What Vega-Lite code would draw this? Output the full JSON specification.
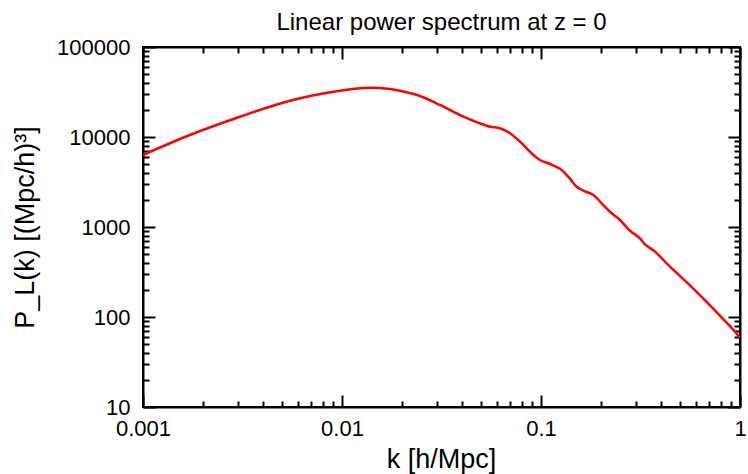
{
  "$schema": "https://vega.github.io/schema/vega-lite/v6.json",
  "width": 597,
  "height": 360,
  "autosize": {"type": "none"},
  "padding": {"left": 143, "top": 47, "right": 8, "bottom": 67},
  "background": "white",
  "title": {"text": "Linear power spectrum at z = 0", "fontSize": 24, "font": "Liberation Sans", "fontWeight": "normal", "color": "black", "offset": 1},
  "config": {
    "view": {"stroke": "black", "strokeWidth": 2},
    "axis": {"domainColor": "black", "domainWidth": 2, "tickColor": "black", "tickWidth": 2, "labelFont": "Liberation Sans", "labelFontSize": 22, "labelColor": "black", "titleFont": "Liberation Sans", "titleFontSize": 27, "titleFontWeight": "normal", "titleColor": "black", "grid": false}
  },
  "data": {"values": [
    {"k": 0.001, "P": 6310},
    {"k": 0.00172, "P": 10520},
    {"k": 0.00307, "P": 16800},
    {"k": 0.00548, "P": 25300},
    {"k": 0.00977, "P": 32650},
    {"k": 0.01384, "P": 35300},
    {"k": 0.01741, "P": 34150},
    {"k": 0.01955, "P": 32650},
    {"k": 0.02466, "P": 28560},
    {"k": 0.03112, "P": 22680},
    {"k": 0.03917, "P": 17550},
    {"k": 0.04931, "P": 14190},
    {"k": 0.05543, "P": 13020},
    {"k": 0.06223, "P": 12490},
    {"k": 0.06986, "P": 10990},
    {"k": 0.07842, "P": 8867},
    {"k": 0.08806, "P": 6866},
    {"k": 0.09886, "P": 5552},
    {"k": 0.111, "P": 5012},
    {"k": 0.1246, "P": 4434},
    {"k": 0.1372, "P": 3623},
    {"k": 0.1512, "P": 2804},
    {"k": 0.1632, "P": 2531},
    {"k": 0.1832, "P": 2268},
    {"k": 0.2056, "P": 1755},
    {"k": 0.2266, "P": 1420},
    {"k": 0.2495, "P": 1196},
    {"k": 0.28, "P": 908},
    {"k": 0.3144, "P": 749},
    {"k": 0.3332, "P": 640},
    {"k": 0.374, "P": 532},
    {"k": 0.4447, "P": 362},
    {"k": 0.5608, "P": 225},
    {"k": 0.7067, "P": 135},
    {"k": 0.8906, "P": 79},
    {"k": 1.0, "P": 59}
  ]},
  "layer": [
    {
      "mark": {"type": "line", "color": "#ff0000", "strokeWidth": 2.5, "interpolate": "catmull-rom", "clip": true},
      "encoding": {
        "x": {"field": "k", "type": "quantitative", "scale": {"type": "log", "domain": [0.001, 1], "nice": false},
          "axis": {"orient": "bottom", "values": [0.001, 0.01, 0.1, 1], "format": "~g", "tickSize": -12, "labelPadding": 23, "labelFlush": false, "labelOverlap": false, "title": "k [h/Mpc]", "titleX": 298, "titleY": 52, "titleBaseline": "middle", "titleAnchor": "middle"}},
        "y": {"field": "P", "type": "quantitative", "scale": {"type": "log", "domain": [10, 100000], "nice": false},
          "axis": {"orient": "left", "values": [10, 100, 1000, 10000, 100000], "format": "d", "tickSize": -12, "labelPadding": 25, "labelFlush": false, "labelOverlap": false, "title": "P_L(k) [(Mpc/h)³]", "titleX": -118, "titleY": 180, "titleAngle": -90, "titleAlign": "center", "titleBaseline": "middle"}}
      }
    },
    {
      "mark": {"type": "line", "opacity": 0},
      "encoding": {
        "x": {"field": "k", "type": "quantitative", "axis": {"orient": "bottom", "values": [0.002,0.003,0.004,0.005,0.006,0.007,0.008,0.009,0.02,0.03,0.04,0.05,0.06,0.07,0.08,0.09,0.2,0.3,0.4,0.5,0.6,0.7,0.8,0.9], "tickSize": -6, "labels": false, "domain": false, "title": null}},
        "y": {"field": "P", "type": "quantitative", "axis": {"orient": "left", "values": [20,30,40,50,60,70,80,90,200,300,400,500,600,700,800,900,2000,3000,4000,5000,6000,7000,8000,9000,20000,30000,40000,50000,60000,70000,80000,90000], "tickSize": -6, "labels": false, "domain": false, "title": null}}
      }
    },
    {
      "mark": {"type": "line", "opacity": 0},
      "encoding": {
        "x": {"field": "k", "type": "quantitative", "axis": {"orient": "top", "values": [0.001, 0.01, 0.1, 1], "tickSize": -12, "labels": false, "title": null}},
        "y": {"field": "P", "type": "quantitative", "axis": {"orient": "right", "values": [10, 100, 1000, 10000, 100000], "tickSize": -12, "labels": false, "title": null}}
      }
    },
    {
      "mark": {"type": "line", "opacity": 0},
      "encoding": {
        "x": {"field": "k", "type": "quantitative", "axis": {"orient": "top", "values": [0.002,0.003,0.004,0.005,0.006,0.007,0.008,0.009,0.02,0.03,0.04,0.05,0.06,0.07,0.08,0.09,0.2,0.3,0.4,0.5,0.6,0.7,0.8,0.9], "tickSize": -6, "labels": false, "domain": false, "title": null}},
        "y": {"field": "P", "type": "quantitative", "axis": {"orient": "right", "values": [20,30,40,50,60,70,80,90,200,300,400,500,600,700,800,900,2000,3000,4000,5000,6000,7000,8000,9000,20000,30000,40000,50000,60000,70000,80000,90000], "tickSize": -6, "labels": false, "domain": false, "title": null}}
      }
    }
  ],
  "resolve": {"axis": {"x": "independent", "y": "independent"}}
}
